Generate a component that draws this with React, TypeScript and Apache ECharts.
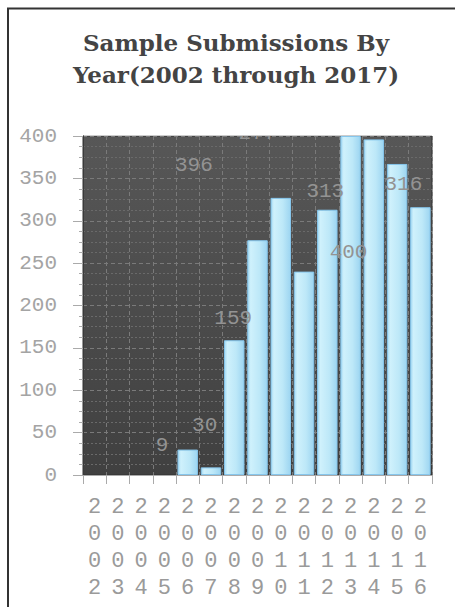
import React, { useEffect, useRef } from "react";
import * as echarts from "echarts";

const titleText = "Sample Submissions By\nYear(2002 through 2017)";
const years = ["2002", "2003", "2004", "2005", "2006", "2007", "2008", "2009", "2010", "2011", "2012", "2013", "2014", "2015", "2016"];
const submissions = [0, 0, 0, 0, 30, 9, 159, 277, 327, 240, 313, 400, 396, 367, 316];
const yTicks = { min: 0, max: 400, interval: 50 };
// which bars show their value label (the rest are hidden in the reference)
const labelShown = [false, false, false, false, true, true, true, true, false, false, true, true, true, false, true];
// label displacement from the bar's top centre, in pixels (layout only)
const labelShift: Array<[number, number]> = [
  [0, 0], [0, 0], [0, 0], [0, 0],
  [17, -24], [-49, -22], [-1, -22], [0, -107],
  [0, 0], [0, 0], [-2, -18], [-2, 116], [-180, 26], [0, 0], [-17, -23],
];

const MONO = "'Liberation Mono', 'DejaVu Sans Mono', monospace";

export default function App() {
  const ref = useRef<HTMLDivElement>(null);
  useEffect(() => {
    if (!ref.current) return;
    const chart = echarts.init(ref.current, undefined, { renderer: "svg" });
    const barFill = new echarts.graphic.LinearGradient(0, 0, 1, 0, [
      { offset: 0, color: "#a4d9f3" },
      { offset: 0.15, color: "#cff1fc" },
      { offset: 0.6, color: "#bde8f8" },
      { offset: 1, color: "#9dd5f1" },
    ]);
    const bg = new echarts.graphic.LinearGradient(0, 0, 0, 1, [
      { offset: 0, color: "#575757" },
      { offset: 1, color: "#404040" },
    ]);
    chart.setOption({
      animation: false,
      backgroundColor: "#ffffff",
      title: {
        text: titleText,
        left: 231,
        top: 21,
        textAlign: "center",
        textStyle: {
          fontFamily: "'DejaVu Serif', serif",
          fontWeight: "bold",
          fontSize: 23,
          lineHeight: 32,
          color: "#444444",
        },
      },
      grid: {
        left: 83,
        right: 23,
        top: 136,
        bottom: 132,
        show: true,
        backgroundColor: bg,
        borderColor: "#333333",
        borderWidth: 1,
      },
      xAxis: {
        type: "category",
        data: years,
        axisLine: { show: true, lineStyle: { color: "#aaaaaa", width: 1 } },
        axisTick: { show: true, length: 9, lineStyle: { color: "#aaaaaa" } },
        splitLine: { show: true, lineStyle: { color: "#7a7a7a", type: [4, 3], width: 1 } },
        axisLabel: {
          margin: 19,
          interval: 0,
          fontFamily: MONO,
          fontSize: 22,
          lineHeight: 27,
          color: "#9a9a9a",
          formatter: (v: string) => v.split("").join("\n"),
        },
      },
      yAxis: {
        type: "value",
        min: yTicks.min,
        max: yTicks.max,
        interval: yTicks.interval,
        axisLine: { show: true, lineStyle: { color: "#3a3a3a" } },
        axisTick: { show: true, length: 10, lineStyle: { color: "#aaaaaa" } },
        minorTick: { show: true, splitNumber: 4, length: 4, lineStyle: { color: "#aaaaaa" } },
        splitLine: { show: true, lineStyle: { color: "#7a7a7a", type: [4, 3] } },
        minorSplitLine: { show: true, lineStyle: { color: "#6a6a6a", type: [2, 2] } },
        axisLabel: {
          margin: 26,
          fontFamily: MONO,
          fontSize: 21,
          color: "#a4a4a4",
        },
      },
      series: [
        {
          type: "bar",
          barWidth: "88%",
          data: submissions.map((v, i) => ({
            value: v,
            itemStyle: { borderWidth: v > 0 ? 1 : 0 },
            label: {
              show: labelShown[i],
              offset: labelShift[i],
            },
          })),
          itemStyle: {
            color: barFill,
            borderColor: "#86c6ec",
            borderWidth: 1,
          },
          label: {
            position: "top",
            distance: 0,
            align: "center",
            verticalAlign: "middle",
            fontFamily: MONO,
            fontSize: 21,
            color: "#939393",
          },
        },
      ],
      graphic: [
        {
          type: "rect",
          z: 100,
          silent: true,
          shape: { x: 84, y: 98, width: 350, height: 37.5 },
          style: { fill: "#ffffff" },
        },
        {
          type: "line",
          z: 100,
          shape: { x1: 7, y1: 8.5, x2: 455, y2: 8.5 },
          style: { stroke: "#333333", lineWidth: 2 },
        },
        {
          type: "line",
          z: 100,
          shape: { x1: 8, y1: 8, x2: 8, y2: 607 },
          style: { stroke: "#333333", lineWidth: 2 },
        },
      ],
    });
    return () => chart.dispose();
  }, []);
  return (
    <div
      ref={ref}
      style={{ position: "absolute", left: 0, top: 0, width: 455, height: 607 }}
    />
  );
}
